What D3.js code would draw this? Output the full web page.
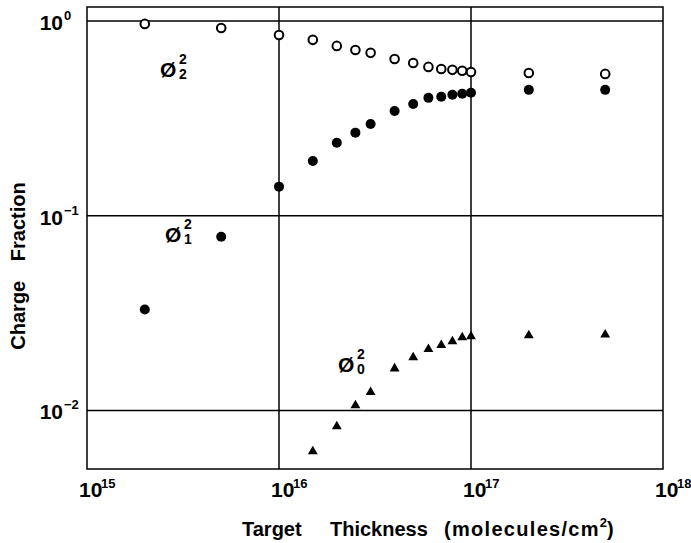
<!DOCTYPE html>
<html>
<head>
<meta charset="utf-8">
<script src="https://cdn.jsdelivr.net/npm/d3@7"></script>
<style>
    body { margin: 0; background: #fff; }
    svg { display: block; }
    .grid { stroke: #000; stroke-width: 1.5; fill: none; }
    .tick-label { font-family: "Liberation Sans", Arial, sans-serif; font-weight: bold; fill: #000; }
    .title { font-family: "Liberation Sans", Arial, sans-serif; font-weight: bold; fill: #000; }
</style>
</head>
<body>
<svg id="chart"></svg>
<script>
// target thickness (molecules/cm^2)
const thickness = [2e15, 5e15, 1e16, 1.5e16, 2e16, 2.5e16, 3e16, 4e16, 5e16, 6e16, 7e16, 8e16, 9e16, 1e17, 2e17, 5e17];
// charge fractions
const phi22 = [0.966, 0.92, 0.848, 0.80, 0.745, 0.71, 0.686, 0.638, 0.609, 0.581, 0.567, 0.561, 0.555, 0.547, 0.541, 0.535];
const phi21 = [0.033, 0.078, 0.141, 0.191, 0.237, 0.267, 0.296, 0.345, 0.375, 0.403, 0.408, 0.418, 0.423, 0.428, 0.443, 0.443];
const thickness0 = [1.5e16, 2e16, 2.5e16, 3e16, 4e16, 5e16, 6e16, 7e16, 8e16, 9e16, 1e17, 2e17, 5e17];
const phi20 = [0.00616, 0.00828, 0.0106, 0.0124, 0.0164, 0.0187, 0.0206, 0.0216, 0.0226, 0.0237, 0.0240, 0.0243, 0.0245];

const xTicks = [1e15, 1e16, 1e17, 1e18];
const xTickExp = ["15", "16", "17", "18"];
const yTicks = [1, 0.1, 0.01];
const yTickExp = ["0", "\u22121", "\u22122"];

// curve labels: [x, y, sup, sub]
const curveLabels = [
    [2.4e15, 0.516, "2", "2"],
    [2.55e15, 0.0736, "2", "1"],
    [2.03e16, 0.0157, "2", "0"]
];

const width = 691, height = 543;
const m = {left: 87, right: 663, top: 7, bottom: 469};

const svg = d3.select("#chart")
    .attr("width", width)
    .attr("height", height);

const x = d3.scaleLog().domain([1e15, 1e18]).range([m.left, m.right]);
const y = d3.scaleLog().domain([0.005, 1.18]).range([m.bottom, m.top]);

// frame
svg.append("rect")
    .attr("class", "grid")
    .attr("x", m.left)
    .attr("y", m.top)
    .attr("width", m.right - m.left)
    .attr("height", m.bottom - m.top);

// decade grid lines
svg.selectAll(".vgrid")
    .data(xTicks.slice(1, -1))
    .enter().append("line")
    .attr("class", "grid")
    .attr("x1", d => x(d)).attr("x2", d => x(d))
    .attr("y1", m.top).attr("y2", m.bottom);

svg.selectAll(".hgrid")
    .data(yTicks)
    .enter().append("line")
    .attr("class", "grid")
    .attr("x1", m.left).attr("x2", m.right)
    .attr("y1", d => y(d)).attr("y2", d => y(d));

// x tick labels
xTicks.forEach((d, i) => {
    svg.append("text")
        .attr("class", "tick-label")
        .attr("x", x(d) - 8)
        .attr("y", m.bottom + 28)
        .attr("font-size", 21)
        .text("10");
    svg.append("text")
        .attr("class", "tick-label")
        .attr("x", x(d) + 14)
        .attr("y", m.bottom + 19)
        .attr("font-size", 13)
        .text(xTickExp[i]);
});

// y tick labels
yTicks.forEach((d, i) => {
    svg.append("text")
        .attr("class", "tick-label")
        .attr("x", 63)
        .attr("y", y(d) + 9)
        .attr("font-size", 21)
        .attr("text-anchor", "end")
        .text("10");
    svg.append("text")
        .attr("class", "tick-label")
        .attr("x", 64)
        .attr("y", y(d) - 1)
        .attr("font-size", 13)
        .text(yTickExp[i]);
});

// axis titles
let xTitle = svg.append("text")
    .attr("class", "title")
    .attr("y", 536)
    .attr("font-size", 20);
xTitle.append("tspan").attr("x", 242).text("Target");
xTitle.append("tspan").attr("x", 330).text("Thickness");
xTitle.append("tspan").attr("x", 444).attr("letter-spacing", 1.3).text("(molecules/cm");
xTitle.append("tspan").attr("font-size", 13).attr("dy", -9).text("2");
xTitle.append("tspan").attr("dy", 9).text(")");

svg.append("text")
    .attr("class", "title")
    .attr("transform", "translate(25, 266) rotate(-90)")
    .attr("text-anchor", "middle")
    .attr("font-size", 20)
    .attr("word-spacing", 14)
    .text("Charge Fraction");

// data marks
svg.selectAll(".open")
    .data(thickness.map((t, i) => [t, phi22[i]]))
    .enter().append("circle")
    .attr("cx", d => x(d[0]))
    .attr("cy", d => y(d[1]))
    .attr("r", 4.3)
    .attr("fill", "#fff")
    .attr("stroke", "#000")
    .attr("stroke-width", 2);

svg.selectAll(".filled")
    .data(thickness.map((t, i) => [t, phi21[i]]))
    .enter().append("circle")
    .attr("cx", d => x(d[0]))
    .attr("cy", d => y(d[1]))
    .attr("r", 5)
    .attr("fill", "#000");

const tri = d3.symbol().type(d3.symbolTriangle).size(42);
svg.selectAll(".tri")
    .data(thickness0.map((t, i) => [t, phi20[i]]))
    .enter().append("path")
    .attr("d", tri)
    .attr("transform", d => `translate(${x(d[0])},${y(d[1])})`)
    .attr("fill", "#000");

// curve labels
curveLabels.forEach(d => {
    let px = x(d[0]), py = y(d[1]);
    svg.append("text")
        .attr("class", "tick-label")
        .attr("x", px).attr("y", py)
        .attr("font-size", 21)
        .text("\u00d8");
    svg.append("text")
        .attr("class", "tick-label")
        .attr("x", px + 19).attr("y", py - 13)
        .attr("font-size", 14)
        .text(d[2]);
    svg.append("text")
        .attr("class", "tick-label")
        .attr("x", px + 19).attr("y", py + 2)
        .attr("font-size", 14)
        .text(d[3]);
});
</script>
</body>
</html>
